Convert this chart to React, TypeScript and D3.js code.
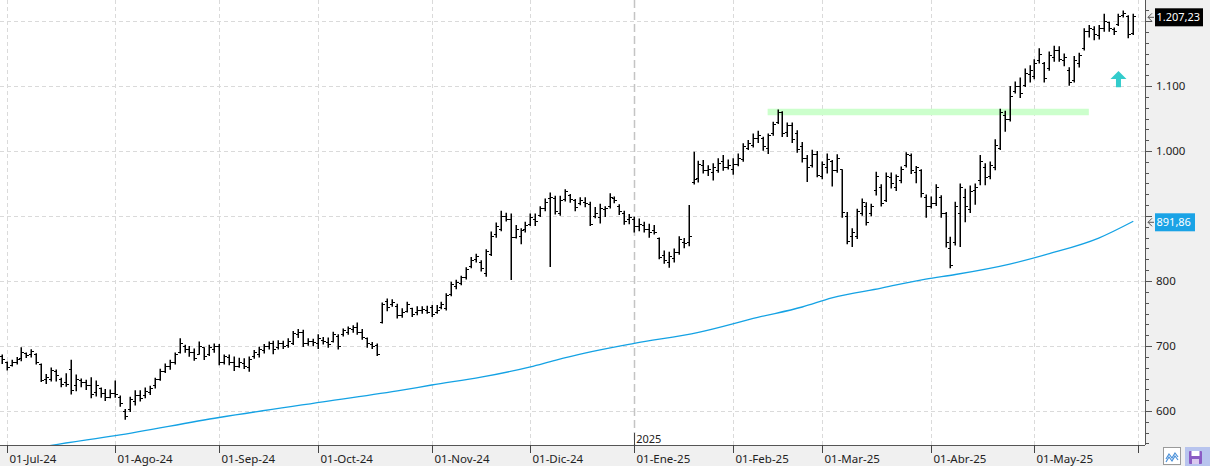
import React from 'react';
import * as d3 from 'd3';

// daily bars, one array per month: [open, high, low, close]
const jun24 = [[684, 687, 674, 680]];
const jul24 = [
  [675, 676, 664, 668], [671, 679, 670, 676], [676, 683, 673, 680], [682, 698, 678, 690],
  [689, 690, 683, 686], [687, 695, 684, 692], [688, 689, 673, 676], [672, 673, 646, 648],
  [650, 657, 643, 653], [650, 667, 647, 663], [662, 664, 647, 655], [650, 651, 638, 642],
  [645, 658, 639, 641], [665, 679, 627, 632], [640, 656, 632, 650], [648, 650, 638, 645],
  [645, 648, 634, 640], [640, 652, 621, 626], [630, 647, 624, 640], [635, 636, 622, 628],
  [628, 634, 617, 622], [622, 633, 621, 628],
];
const ago24 = [
  [628, 647, 622, 626], [622, 624, 608, 612], [600, 603, 588, 592], [603, 622, 600, 618],
  [615, 632, 610, 625], [625, 632, 616, 620], [624, 636, 621, 631], [630, 639, 626, 636],
  [640, 651, 636, 650], [650, 665, 648, 661], [662, 673, 660, 669], [670, 679, 665, 675],
  [675, 690, 673, 688], [690, 712, 690, 705], [700, 702, 691, 695], [695, 700, 685, 690],
  [690, 696, 679, 682], [688, 707, 688, 700], [698, 698, 680, 684], [688, 702, 686, 698],
  [695, 704, 691, 700],
];
const sep24 = [
  [700, 703, 672, 675], [676, 687, 673, 684], [683, 687, 672, 676], [676, 684, 663, 670],
  [670, 682, 668, 675], [674, 681, 666, 670], [668, 684, 662, 680], [684, 694, 682, 690],
  [688, 699, 684, 696], [694, 703, 690, 700], [700, 707, 696, 704], [704, 708, 689, 695],
  [698, 709, 696, 705], [704, 708, 697, 700], [701, 712, 699, 708], [705, 723, 703, 720],
  [718, 726, 714, 722], [722, 725, 700, 704], [705, 712, 702, 708], [707, 711, 701, 706],
];
const oct24 = [
  [705, 718, 697, 712], [710, 714, 704, 707], [706, 713, 699, 703], [708, 722, 707, 718],
  [715, 718, 696, 700], [718, 727, 716, 724], [722, 730, 719, 727], [726, 732, 722, 729],
  [730, 736, 719, 722], [722, 726, 711, 714], [712, 713, 699, 704], [703, 706, 697, 700],
  [701, 704, 686, 688], [737, 767, 736, 765], [770, 773, 755, 760], [764, 772, 762, 768],
  [762, 765, 744, 748], [748, 758, 745, 753], [754, 768, 753, 765], [758, 759, 746, 750],
  [752, 761, 749, 756], [755, 761, 751, 757], [756, 762, 751, 753],
];
const nov24 = [
  [760, 763, 746, 750], [752, 763, 751, 756], [760, 768, 758, 765], [758, 781, 756, 778],
  [780, 799, 778, 795], [793, 802, 789, 798], [797, 808, 795, 806], [806, 821, 804, 818],
  [823, 837, 821, 832], [834, 842, 830, 838], [830, 832, 816, 820], [812, 849, 808, 846],
  [842, 876, 840, 870], [872, 890, 868, 885], [880, 908, 878, 900], [900, 905, 893, 896],
  [895, 904, 803, 867], [868, 886, 867, 880], [870, 881, 858, 878], [880, 891, 876, 886],
];
const dic24 = [
  [888, 904, 886, 898], [895, 904, 886, 892], [902, 915, 900, 912], [912, 927, 909, 922],
  [928, 936, 823, 930], [928, 931, 904, 908], [905, 931, 902, 925], [926, 941, 924, 938],
  [932, 934, 922, 926], [924, 926, 909, 914], [920, 929, 918, 924], [922, 929, 915, 920],
  [918, 922, 886, 888], [900, 914, 898, 905], [898, 919, 890, 912], [910, 915, 900, 912],
  [915, 935, 913, 930], [928, 930, 921, 924], [915, 918, 903, 908], [905, 908, 888, 892],
  [895, 903, 889, 898],
];
const ene25 = [
  [896, 899, 876, 885], [884, 896, 878, 888], [886, 891, 876, 880], [880, 888, 868, 875],
  [878, 886, 873, 876], [866, 867, 835, 837], [840, 847, 828, 832], [830, 845, 822, 838],
  [835, 850, 830, 845], [845, 869, 842, 865], [860, 866, 852, 858], [860, 917, 855, 870],
  [953, 999, 950, 957], [958, 985, 953, 980], [978, 986, 967, 970], [970, 978, 963, 972],
  [968, 981, 956, 975], [970, 989, 968, 982], [985, 994, 971, 975], [975, 987, 973, 978],
];
const feb25 = [
  [972, 989, 965, 980], [980, 996, 978, 990], [988, 1012, 985, 1008], [1005, 1017, 1003, 1012],
  [1010, 1027, 1007, 1020], [1020, 1031, 1014, 1025], [1020, 1022, 1002, 1008], [1005, 1027, 997, 1025],
  [1028, 1045, 1025, 1042], [1045, 1064, 1043, 1060], [1060, 1061, 1023, 1028], [1030, 1044, 1023, 1040],
  [1040, 1044, 1014, 1018], [1027, 1032, 999, 1003], [1008, 1014, 984, 990], [990, 994, 954, 975],
  [978, 1002, 976, 995], [995, 1000, 961, 963],
];
const mar25 = [
  [962, 984, 958, 980], [975, 996, 967, 988], [985, 986, 947, 970], [970, 995, 968, 990],
  [972, 972, 899, 906], [900, 906, 858, 862], [870, 881, 854, 875], [870, 911, 866, 908],
  [905, 927, 902, 922], [915, 921, 887, 890], [905, 919, 901, 915], [940, 968, 933, 962],
  [945, 949, 916, 920], [925, 967, 923, 962], [960, 967, 944, 950], [945, 964, 940, 962],
  [955, 976, 952, 972], [978, 998, 976, 995], [994, 996, 966, 970], [968, 977, 952, 975],
  [970, 972, 930, 935], [930, 933, 899, 915],
];
const abr25 = [
  [915, 930, 913, 920], [920, 949, 917, 945], [930, 932, 899, 905], [905, 906, 853, 860],
  [850, 868, 821, 825], [860, 922, 856, 915], [905, 950, 854, 945], [930, 942, 892, 915],
  [910, 947, 906, 938], [940, 950, 919, 945], [955, 994, 949, 985], [975, 981, 949, 960],
  [962, 984, 958, 978], [975, 1018, 972, 1010], [1005, 1065, 1003, 1060], [1055, 1062, 1031, 1050],
  [1050, 1100, 1047, 1085], [1092, 1107, 1090, 1100], [1100, 1113, 1083, 1090], [1102, 1127, 1100, 1120],
  [1118, 1132, 1107, 1125],
];
const may25 = [
  [1115, 1141, 1112, 1135], [1140, 1158, 1136, 1150], [1135, 1137, 1107, 1112], [1128, 1153, 1125, 1148],
  [1145, 1162, 1139, 1155], [1155, 1161, 1139, 1142], [1140, 1150, 1132, 1145], [1125, 1129, 1102, 1106],
  [1110, 1146, 1107, 1140], [1135, 1151, 1130, 1148], [1158, 1189, 1156, 1185], [1185, 1194, 1176, 1190],
  [1188, 1192, 1172, 1180], [1178, 1194, 1173, 1190], [1190, 1211, 1185, 1200], [1198, 1199, 1185, 1190],
  [1188, 1190, 1180, 1184], [1195, 1211, 1194, 1208], [1210, 1216, 1207, 1212], [1208, 1209, 1175, 1180],
  [1182, 1211, 1180, 1207.23],
];

const monthLabels = ['01-Jul-24', '01-Ago-24', '01-Sep-24', '01-Oct-24', '01-Nov-24', '01-Dic-24',
  '01-Ene-25', '01-Feb-25', '01-Mar-25', '01-Abr-25', '01-May-25', '01-Jun-25'];
const monthBars = [jul24, ago24, sep24, oct24, nov24, dic24, ene25, feb25, mar25, abr25, may25];

// moving average, read at some bars (bar index, value)
const maIndex = [0, 10, 23, 44, 65, 81, 87, 97, 107, 112, 118, 128, 141, 153, 162, 168, 178, 187, 193, 204, 212, 222, 229];
const maValue = [533, 547, 562, 590, 614, 632, 640, 652, 668, 678, 689, 704, 721, 744, 760, 774, 789, 803, 810, 826, 842, 866, 891.86];

// resistance band and arrow
const band = { from: 155, to: 220, low: 1055, high: 1065 };
const arrowAt = { index: 226, base: 1098, tip: 1123 };

const W = 1210, H = 466;
const plotRight = 1145, plotBottom = 445;
const FONT = "'Segoe UI', 'Noto Sans', sans-serif";

const locale = d3.formatLocale({ decimal: ',', thousands: '.', grouping: [3], currency: ['', ''] });
const fmtTick = locale.format(',d');
const fmtPrice = locale.format(',.2f');

export default function App() {
  const bars = [...jun24, ...monthBars.flat()];
  const n = bars.length;

  const x = d3.scaleLinear().domain([0, n - 1]).range([1.7, 1133.3]);
  const y = d3.scaleLinear().domain([600, 1200]).range([411, 21]);

  // month start indices
  const starts: number[] = [];
  let acc = jun24.length;
  monthBars.forEach(m => { starts.push(acc); acc += m.length; });
  starts.push(acc); // 01-Jun-25

  const majors = d3.range(600, 1201, 100);
  const minors = d3.range(0, 42).map(k => 550 + (k * 100) / 6).filter(v => y(v) > 0 && y(v) < plotBottom);

  const maLine = d3.line<number>()
    .x((_, i) => x(maIndex[i]))
    .y(d => y(d))
    .curve(d3.curveMonotoneX);

  const last = bars[n - 1][3];
  const lastMa = maValue[maValue.length - 1];
  const boxes = [
    { v: last, fill: '#000000', text: fmtPrice(last), w: 48 },
    { v: lastMa, fill: '#1aa3e6', text: fmtPrice(lastMa), w: 40 },
  ];

  const ax = x(arrowAt.index);
  const yb = y(arrowAt.base), yt = y(arrowAt.tip);
  const arrowPath = `M${ax},${yt} L${ax + 8},${yt + 8} L${ax + 2.5},${yt + 8} L${ax + 2.5},${yb} L${ax - 2.5},${yb} L${ax - 2.5},${yt + 8} L${ax - 8},${yt + 8} Z`;

  return (
    <div style={{ position: 'absolute', left: 0, top: 0 }}>
      <svg width={W} height={H} style={{ display: 'block', background: '#fff' }} fontFamily={FONT}>
        <defs>
          <clipPath id="plot"><rect x={0} y={0} width={plotRight} height={plotBottom} /></clipPath>
        </defs>

        {/* panels */}
        <rect x={plotRight} y={0} width={W - plotRight} height={H} fill="#f0f0f0" />
        <rect x={0} y={plotBottom} width={W} height={H - plotBottom} fill="#f0f0f0" />

        <g clipPath="url(#plot)">
          {/* horizontal grid */}
          {majors.map(v => (
            <line key={v} x1={0} x2={plotRight} y1={Math.round(y(v)) + 0.5} y2={Math.round(y(v)) + 0.5}
              stroke="#dadada" strokeDasharray="4,3" />
          ))}
          {/* vertical grid */}
          {starts.map((s, k) => (
            <line key={k} x1={Math.round(x(s)) + 0.5} x2={Math.round(x(s)) + 0.5} y1={0} y2={plotBottom}
              stroke={k === 6 ? '#c4c4c4' : '#dadada'} strokeWidth={k === 6 ? 1.5 : 1}
              strokeDasharray={k === 6 ? '8,4' : '4,3'} />
          ))}

          {/* band */}
          <rect x={x(band.from)} y={y(band.high)} width={x(band.to) - x(band.from)} height={y(band.low) - y(band.high)}
            fill="#ccffcc" />

          {/* moving average */}
          <path d={maLine(maValue) ?? ''} fill="none" stroke="#14a2e4" strokeWidth={1.3} />

          {/* bars */}
          <g stroke="#000">
            {bars.map((b, i) => {
              const cx = Math.round(x(i)) + 0.25;
              return (
                <g key={i}>
                  <line x1={cx} x2={cx} y1={y(b[1])} y2={y(b[2]) + 1} strokeWidth={1.5} />
                  <line x1={cx - 2.5} x2={cx} y1={Math.round(y(b[0])) + 0.5} y2={Math.round(y(b[0])) + 0.5} strokeWidth={1} shapeRendering="crispEdges" />
                  <line x1={cx} x2={cx + 2.5} y1={Math.round(y(b[3])) + 0.5} y2={Math.round(y(b[3])) + 0.5} strokeWidth={1} shapeRendering="crispEdges" />
                </g>
              );
            })}
          </g>

          {/* arrow */}
          <path d={arrowPath} fill="#33cccc" />

          {/* year marker */}
          <line x1={Math.round(x(starts[6])) + 0.5} x2={Math.round(x(starts[6])) + 0.5} y1={433} y2={plotBottom} stroke="#444" />
          <text x={x(starts[6]) + 2} y={443} fontSize={11} fill="#222">2025</text>
        </g>

        {/* axes */}
        <line x1={0} x2={plotRight} y1={plotBottom + 0.5} y2={plotBottom + 0.5} stroke="#555" />
        <line x1={plotRight + 0.5} x2={plotRight + 0.5} y1={0} y2={plotBottom} stroke="#555" />

        {/* right axis ticks */}
        {minors.map((v, k) => (
          <line key={k} x1={plotRight} x2={plotRight + 4} y1={Math.round(y(v)) + 0.5} y2={Math.round(y(v)) + 0.5} stroke="#555" />
        ))}
        {majors.map(v => (
          <g key={v}>
            <line x1={plotRight} x2={plotRight + 7} y1={Math.round(y(v)) + 0.5} y2={Math.round(y(v)) + 0.5} stroke="#555" />
            {boxes.every(b => Math.abs(y(b.v) - y(v)) > 12) && (
              <text x={1156} y={y(v)} dy="0.35em" fontSize={11.5} fill="#222">{fmtTick(v)}</text>
            )}
          </g>
        ))}

        {/* last value boxes */}
        {boxes.map((b, k) => {
          const cy = y(b.v) + 1;
          return (
            <g key={k}>
              <path d={`M1152,${cy - 4} L1148,${cy} L1152,${cy + 4} M1148,${cy} L1154,${cy}`} fill="none" stroke="#555" />
              <rect x={1155} y={cy - 9} width={b.w} height={18} fill={b.fill} />
              <text x={1156.5} y={cy} dy="0.35em" fontSize={11} fill="#fff">{b.text}</text>
            </g>
          );
        })}

        {/* bottom axis */}
        <g>
          {starts.map((s, k) => {
            const tx = Math.round(x(s)) + 0.5;
            return (
              <g key={k}>
                <line x1={tx} x2={tx} y1={plotBottom} y2={453} stroke="#444" />
                {tx < plotRight - 20 && (
                  <text x={tx + 2} y={463} fontSize={11.5} fill="#222">{monthLabels[k]}</text>
                )}
              </g>
            );
          })}
        </g>

        {/* toolbar icons */}
        <rect x={1163.5} y={447.5} width={17} height={17} fill="#fff" stroke="#9a9a9a" />
        <path d="M1166,459 L1169,454 L1172,458 L1175,453 L1178,457 M1166,462 L1169,457 L1172,461 L1175,456 L1178,460"
          fill="none" stroke="#4a90d9" strokeWidth={1.2} />
        <rect x={1185} y={447} width={25} height={19} fill="#b8c4ee" />
        <rect x={1189} y={451} width={13} height={13} rx={1} fill="#8b5bc4" />
        <rect x={1191.5} y={451} width={8} height={5} fill="#fff" />
        <rect x={1192} y={459} width={7} height={5} fill="#d9c9ef" />
      </svg>
    </div>
  );
}
